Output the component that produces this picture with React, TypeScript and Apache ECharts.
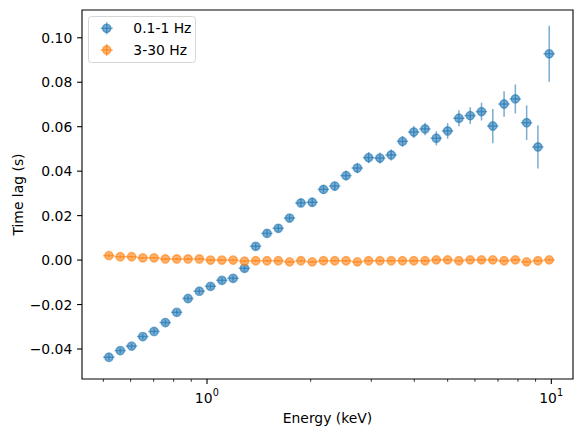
import React, { useEffect, useRef } from "react";
import * as echarts from "echarts";

// Energy bin centres (keV) and half-widths of each bin
const energies = [
  0.519, 0.56, 0.604, 0.651, 0.702, 0.757, 0.817, 0.881, 0.95, 1.024,
  1.105, 1.191, 1.285, 1.385, 1.494, 1.611, 1.737, 1.874, 2.021, 2.179,
  2.35, 2.534, 2.733, 2.947, 3.178, 3.427, 3.696, 3.986, 4.298, 4.635,
  4.999, 5.391, 5.813, 6.269, 6.761, 7.291, 7.862, 8.479, 9.143, 9.86,
];
const energyHalfWidth = [
  0.02, 0.021, 0.023, 0.025, 0.027, 0.029, 0.031, 0.033, 0.036, 0.039,
  0.042, 0.045, 0.049, 0.053, 0.057, 0.061, 0.066, 0.071, 0.077, 0.083,
  0.089, 0.096, 0.104, 0.112, 0.121, 0.13, 0.14, 0.151, 0.163, 0.176,
  0.19, 0.205, 0.221, 0.238, 0.257, 0.277, 0.299, 0.322, 0.347, 0.375,
];

// Time lags (s), low-frequency band 0.1-1 Hz
const lagSlow = [
  -0.0437, -0.0407, -0.0387, -0.0344, -0.0321, -0.0281, -0.0235, -0.0173, -0.014, -0.0118,
  -0.0091, -0.0082, -0.0037, 0.0062, 0.012, 0.0143, 0.0189, 0.0257, 0.026, 0.0318,
  0.0333, 0.038, 0.0414, 0.0461, 0.0459, 0.0473, 0.0534, 0.0576, 0.059, 0.0548,
  0.0581, 0.0638, 0.065, 0.0668, 0.0603, 0.0702, 0.0725, 0.0618, 0.0509, 0.0928,
];
const lagSlowErr = [
  0.0013, 0.0013, 0.0013, 0.0013, 0.0013, 0.0013, 0.0013, 0.0013, 0.0013, 0.0014,
  0.0014, 0.0014, 0.0015, 0.0015, 0.0016, 0.0016, 0.0017, 0.0018, 0.0019, 0.002,
  0.0021, 0.0022, 0.0023, 0.0025, 0.0025, 0.0025, 0.0024, 0.0027, 0.0028, 0.0032,
  0.0035, 0.0036, 0.0038, 0.004, 0.0077, 0.0057, 0.0065, 0.0078, 0.0097, 0.0126,
];

// Time lags (s), high-frequency band 3-30 Hz
const lagFast = [
  0.002, 0.0015, 0.0015, 0.001, 0.001, 0.0005, 0.0005, 0.0005, 0.0005, 0.0,
  0.0, 0.0, -0.0005, -0.0003, -0.0003, -0.0003, -0.0008, -0.0003, -0.0008, -0.0003,
  -0.0003, -0.0003, -0.0008, -0.0003, -0.0003, -0.0003, -0.0003, -0.0003, -0.0003, 0.0001,
  0.0001, -0.0003, 0.0001, 0.0001, 0.0001, -0.0003, 0.0001, -0.0008, -0.0003, 0.0001,
];
const lagFastErr = [
  0.0005, 0.0005, 0.0005, 0.0005, 0.0005, 0.0005, 0.0005, 0.0005, 0.0005, 0.0005,
  0.0005, 0.0005, 0.0005, 0.0005, 0.0005, 0.0005, 0.0005, 0.0005, 0.0005, 0.0005,
  0.0005, 0.0005, 0.0005, 0.0005, 0.0005, 0.0005, 0.0005, 0.0005, 0.0005, 0.0005,
  0.0005, 0.0005, 0.0005, 0.0005, 0.0005, 0.0005, 0.0005, 0.0005, 0.0005, 0.0005,
];

const seriesLabels = ["0.1-1 Hz", "3-30 Hz"];
const yTickValues = [-0.04, -0.02, 0.0, 0.02, 0.04, 0.06, 0.08, 0.1];
const xMajorTicks = [1, 10];
const xMinorTicks = [0.5, 0.6, 0.7, 0.8, 0.9, 2, 3, 4, 5, 6, 7, 8, 9];

const X_MIN = 0.4335;
const X_MAX = 11.56;
const Y_MIN = -0.0535;
const Y_MAX = 0.1125;

const BLUE = "31,119,180";
const ORANGE = "255,127,14";
const ALPHA = 0.6;
const FONT = "DejaVu Sans";
const FS = 13.9;

function rgba(rgb: string) {
  return `rgba(${rgb},${ALPHA})`;
}

function errorBarSeries(name: string, ys: number[], yerr: number[], rgb: string, z: number) {
  return {
    type: "custom",
    name,
    silent: true,
    z,
    encode: { x: 0, y: 1 },
    data: energies.map((e, i) => [e, ys[i], energyHalfWidth[i], yerr[i]]),
    renderItem: (_params: any, api: any) => {
      const e = api.value(0);
      const v = api.value(1);
      const xe = api.value(2);
      const ye = api.value(3);
      const l = api.coord([e - xe, v]);
      const r = api.coord([e + xe, v]);
      const t = api.coord([e, v + ye]);
      const b = api.coord([e, v - ye]);
      const stroke = rgba(rgb);
      return {
        type: "group",
        children: [
          { type: "line", shape: { x1: l[0], y1: l[1], x2: r[0], y2: r[1] }, style: { stroke, lineWidth: 1.5 } },
          { type: "line", shape: { x1: t[0], y1: t[1], x2: b[0], y2: b[1] }, style: { stroke, lineWidth: 1.5 } },
        ],
      };
    },
  };
}

function markerSeries(name: string, ys: number[], rgb: string, z: number) {
  return {
    type: "scatter",
    name,
    z,
    silent: true,
    symbol: "circle",
    symbolSize: 8.33,
    data: energies.map((e, i) => [e, ys[i]]),
    itemStyle: { color: rgba(rgb), borderColor: rgba(rgb), borderWidth: 1.39, opacity: 1 },
    emphasis: { disabled: true },
  };
}

function fmtY(v: number) {
  const s = Math.abs(v).toFixed(2);
  return v < -1e-9 ? "\u2212" + s : s;
}

const textStyle = (text: string, align: string, vAlign: string, size = FS) => ({
  text,
  align,
  verticalAlign: vAlign,
  textAlign: align,
  textVerticalAlign: vAlign,
  fontSize: size,
  fontFamily: FONT,
  fill: "#000",
});

function legendEntry(i: number, rgb: string) {
  const cx = 106.7;
  const cy = 28.3 + i * 21.7;
  const stroke = rgba(rgb);
  return [
    { type: "line", z: 11, shape: { x1: cx - 6, y1: cy, x2: cx + 6, y2: cy }, style: { stroke, lineWidth: 1.5 } },
    { type: "line", z: 11, shape: { x1: cx, y1: cy - 6, x2: cx, y2: cy + 6 }, style: { stroke, lineWidth: 1.5 } },
    { type: "circle", z: 11, shape: { cx, cy, r: 4.17 }, style: { fill: stroke, stroke, lineWidth: 1.39 } },
    { type: "text", z: 11, x: 133.3, y: cy, style: textStyle(seriesLabels[i], "left", "middle") },
  ];
}

export default function App() {
  const ref = useRef<HTMLDivElement>(null);

  useEffect(() => {
    if (!ref.current) return;
    const chart = echarts.init(ref.current, undefined, { renderer: "svg" });

    const option: any = {
      animation: false,
      backgroundColor: "#fff",
      grid: {
        left: 82,
        right: 14,
        top: 10,
        bottom: 58,
        show: true,
        borderColor: "#000",
        borderWidth: 1.1,
        backgroundColor: "transparent",
        containLabel: false,
        outerBoundsMode: "none",
      },
      xAxis: {
        type: "log",
        logBase: 10,
        min: X_MIN,
        max: X_MAX,
        axisLine: { show: false },
        axisTick: { show: false },
        axisLabel: { show: false },
        splitLine: { show: false },
        minorTick: { show: false },
        name: "Energy (keV)",
        nameLocation: "middle",
        nameGap: 32,
        nameTextStyle: { fontFamily: FONT, fontSize: FS, color: "#000" },
      },
      yAxis: {
        type: "value",
        min: Y_MIN,
        max: Y_MAX,
        axisLine: { show: false },
        axisTick: { show: false },
        axisLabel: { show: false },
        splitLine: { show: false },
        name: "Time lag (s)",
        nameLocation: "middle",
        nameRotate: 90,
        nameGap: 57,
        nameTextStyle: { fontFamily: FONT, fontSize: FS, color: "#000" },
      },
      series: [
        errorBarSeries(seriesLabels[0], lagSlow, lagSlowErr, BLUE, 2),
        markerSeries(seriesLabels[0], lagSlow, BLUE, 3),
        errorBarSeries(seriesLabels[1], lagFast, lagFastErr, ORANGE, 4),
        markerSeries(seriesLabels[1], lagFast, ORANGE, 5),
        // y-axis ticks and labels
        {
          type: "custom",
          silent: true,
          z: 6,
          encode: { x: 0, y: 1 },
          data: yTickValues.map((v) => [1, v]),
          renderItem: (params: any, api: any) => {
            const cs = params.coordSys;
            const v = api.value(1);
            const y = api.coord([1, v])[1];
            return {
              type: "group",
              children: [
                { type: "line", shape: { x1: cs.x - 4.9, y1: y, x2: cs.x, y2: y }, style: { stroke: "#000", lineWidth: 1.1 } },
                { type: "text", x: cs.x - 9.7, y, style: textStyle(fmtY(v), "right", "middle") },
              ],
            };
          },
        },
        // x-axis major ticks with power-of-ten labels
        {
          type: "custom",
          silent: true,
          z: 6,
          encode: { x: 0, y: 1 },
          data: xMajorTicks.map((e) => [e, 0]),
          renderItem: (params: any, api: any) => {
            const cs = params.coordSys;
            const e = api.value(0);
            const x = api.coord([e, 0])[0];
            const yb = cs.y + cs.height;
            const exp = String(Math.round(Math.log10(e)));
            return {
              type: "group",
              children: [
                { type: "line", shape: { x1: x, y1: yb, x2: x, y2: yb + 4.9 }, style: { stroke: "#000", lineWidth: 1.1 } },
                { type: "text", x: x + 5.5, y: yb + 19, style: textStyle("10", "right", "middle") },
                { type: "text", x: x + 5.8, y: yb + 13.5, style: textStyle(exp, "left", "middle", 9.7) },
              ],
            };
          },
        },
        // x-axis minor ticks
        {
          type: "custom",
          silent: true,
          z: 6,
          encode: { x: 0, y: 1 },
          data: xMinorTicks.map((e) => [e, 0]),
          renderItem: (params: any, api: any) => {
            const cs = params.coordSys;
            const x = api.coord([api.value(0), 0])[0];
            const yb = cs.y + cs.height;
            return {
              type: "line",
              shape: { x1: x, y1: yb, x2: x, y2: yb + 2.8 },
              style: { stroke: "#000", lineWidth: 0.8 },
            };
          },
        },
      ],
      graphic: [
        {
          type: "rect",
          z: 10,
          shape: { x: 88.5, y: 16.5, width: 107, height: 46, r: 3 },
          style: { fill: "rgba(255,255,255,0.8)", stroke: "rgba(204,204,204,0.8)", lineWidth: 1 },
        },
        ...legendEntry(0, BLUE),
        ...legendEntry(1, ORANGE),
      ],
    };

    chart.setOption(option);
    return () => chart.dispose();
  }, []);

  return (
    <div
      ref={ref}
      style={{ position: "fixed", left: 0, top: 0, width: 587, height: 437, background: "#fff" }}
    />
  );
}
